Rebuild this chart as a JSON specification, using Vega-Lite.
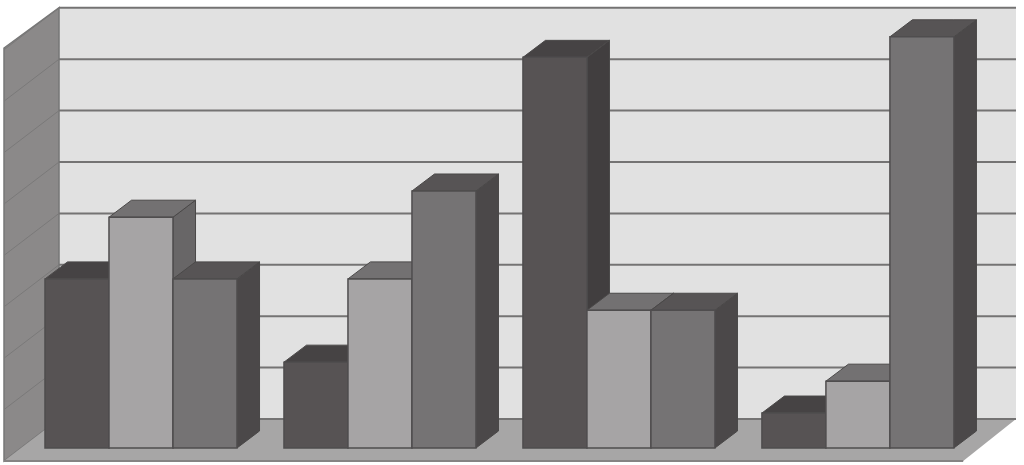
{
  "$schema": "https://vega.github.io/schema/vega-lite/v6.json",
  "width": 1024,
  "height": 465,
  "autosize": {"type": "fit", "contains": "padding"},
  "padding": 0,
  "background": "#ffffff",
  "config": {"view": {"stroke": null}},
  "datasets": {
    "bars": [
      {"group": 1, "series": 1, "value": 3.29},
      {"group": 1, "series": 2, "value": 4.49},
      {"group": 1, "series": 3, "value": 3.29},
      {"group": 2, "series": 1, "value": 1.67},
      {"group": 2, "series": 2, "value": 3.29},
      {"group": 2, "series": 3, "value": 5.0},
      {"group": 3, "series": 1, "value": 7.6},
      {"group": 3, "series": 2, "value": 2.68},
      {"group": 3, "series": 3, "value": 2.68},
      {"group": 4, "series": 1, "value": 0.68},
      {"group": 4, "series": 2, "value": 1.3},
      {"group": 4, "series": 3, "value": 8.0}
    ],
    "ticks": [
      {"tick": 0}, {"tick": 1}, {"tick": 2}, {"tick": 3}, {"tick": 4},
      {"tick": 5}, {"tick": 6}, {"tick": 7}, {"tick": 8}
    ],
    "wall": [{"k": [0, 1, 2, 3]}]
  },
  "layer": [
    {
      "data": {"name": "wall"},
      "mark": {"type": "rect", "fill": "#e1e1e1"},
      "encoding": {
        "x": {"datum": 0.922, "type": "quantitative", "scale": {"domain": [0, 16], "nice": false, "zero": false}, "axis": null},
        "x2": {"datum": 15.875},
        "y": {"datum": 0.564, "type": "quantitative", "scale": {"domain": [-0.3307, 8.716], "nice": false, "zero": false}, "axis": null},
        "y2": {"datum": 8.564}
      }
    },
    {
      "data": {"name": "wall"},
      "transform": [
        {"flatten": ["k"]},
        {"filter": "datum.k < 2"},
        {"calculate": "[0.0625, 0.922][datum.k]", "as": "px"},
        {"calculate": "[-0.253, 0.564][datum.k]", "as": "lo"},
        {"calculate": "[7.782, 8.564][datum.k]", "as": "hi"}
      ],
      "mark": {"type": "area", "fill": "#8b8989", "stroke": "#777777", "strokeWidth": 1.5},
      "encoding": {
        "x": {"field": "px", "type": "quantitative", "axis": null},
        "y": {"field": "lo", "type": "quantitative", "axis": null},
        "y2": {"field": "hi"}
      }
    },
    {
      "data": {"name": "ticks"},
      "transform": [
        {"calculate": "0.564 + datum.tick", "as": "back"},
        {"calculate": "datum.back - 0.817", "as": "front"}
      ],
      "mark": {"type": "rule", "stroke": "#7a7979", "strokeWidth": 1},
      "encoding": {
        "x": {"datum": 0.922, "type": "quantitative", "axis": null},
        "x2": {"datum": 0.0625},
        "y": {"field": "back", "type": "quantitative", "axis": null},
        "y2": {"field": "front"}
      }
    },
    {
      "data": {"name": "wall"},
      "transform": [
        {"flatten": ["k"]},
        {"calculate": "[0.0625, 0.922, 15.05, 15.875][datum.k]", "as": "px"},
        {"calculate": "[-0.253, -0.253, -0.253, 0.564][datum.k]", "as": "lo"},
        {"calculate": "[-0.253, 0.564, 0.564, 0.564][datum.k]", "as": "hi"}
      ],
      "mark": {"type": "area", "fill": "#a7a6a6"},
      "encoding": {
        "x": {"field": "px", "type": "quantitative", "axis": null},
        "y": {"field": "lo", "type": "quantitative", "axis": null},
        "y2": {"field": "hi"}
      }
    },
    {
      "data": {"name": "wall"},
      "mark": {"type": "rule", "stroke": "#858383", "strokeWidth": 2},
      "encoding": {
        "x": {"datum": 0.0625, "type": "quantitative", "axis": null},
        "x2": {"datum": 15.05},
        "y": {"datum": -0.253, "type": "quantitative", "axis": null}
      }
    },
    {
      "data": {"name": "ticks"},
      "transform": [{"calculate": "0.564 + datum.tick", "as": "back"}],
      "mark": {"type": "rule", "stroke": "#747373", "strokeWidth": 2},
      "encoding": {
        "x": {"datum": 0.922, "type": "quantitative", "axis": null},
        "x2": {"datum": 15.875},
        "y": {"field": "back", "type": "quantitative", "axis": null}
      }
    },
    {
      "data": {"name": "bars"},
      "transform": [
        {"calculate": "0.703 + (datum.group - 1) * 3.734 + (datum.series - 1)", "as": "left"},
        {"calculate": "datum.left + 1", "as": "right"}
      ],
      "layer": [
        {
          "transform": [
            {"calculate": "[0, 1]", "as": "k"},
            {"flatten": ["k"]},
            {"calculate": "datum.right + datum.k * 0.352", "as": "px"},
            {"calculate": "datum.k * 0.331", "as": "lo"},
            {"calculate": "datum.value + datum.k * 0.331", "as": "hi"}
          ],
          "mark": {"type": "area", "stroke": "#4a4848", "strokeWidth": 1},
          "encoding": {
            "x": {"field": "px", "type": "quantitative", "axis": null},
            "y": {"field": "lo", "type": "quantitative", "axis": null},
            "y2": {"field": "hi"},
            "detail": {"field": "left"},
            "fill": {
              "field": "series",
              "type": "nominal",
              "scale": {"domain": [1, 2, 3], "range": ["#413e3f", "#686667", "#4b4849"]},
              "legend": null
            }
          }
        },
        {
          "transform": [
            {"calculate": "[0, 1, 2, 3]", "as": "k"},
            {"flatten": ["k"]},
            {"calculate": "datum.left + [0, 0.352, 1, 1.352][datum.k]", "as": "px"},
            {"calculate": "datum.value + [0, 0, 0, 0.331][datum.k]", "as": "lo"},
            {"calculate": "datum.value + [0, 0.331, 0.331, 0.331][datum.k]", "as": "hi"}
          ],
          "mark": {"type": "area", "stroke": "#4a4848", "strokeWidth": 1},
          "encoding": {
            "x": {"field": "px", "type": "quantitative", "axis": null},
            "y": {"field": "lo", "type": "quantitative", "axis": null},
            "y2": {"field": "hi"},
            "detail": {"field": "left"},
            "fill": {
              "field": "series",
              "type": "nominal",
              "scale": {"domain": [1, 2, 3], "range": ["#464344", "#737172", "#575455"]},
              "legend": null
            }
          }
        },
        {
          "mark": {"type": "rect", "stroke": "#4f4d4e", "strokeWidth": 1.5},
          "encoding": {
            "x": {"field": "left", "type": "quantitative", "axis": null},
            "x2": {"field": "right"},
            "y": {"field": "value", "type": "quantitative", "axis": null},
            "y2": {"datum": 0},
            "fill": {
              "field": "series",
              "type": "nominal",
              "scale": {"domain": [1, 2, 3], "range": ["#575354", "#a6a4a5", "#757374"]},
              "legend": null
            }
          }
        }
      ],
      "resolve": {"scale": {"fill": "independent"}}
    }
  ]
}
